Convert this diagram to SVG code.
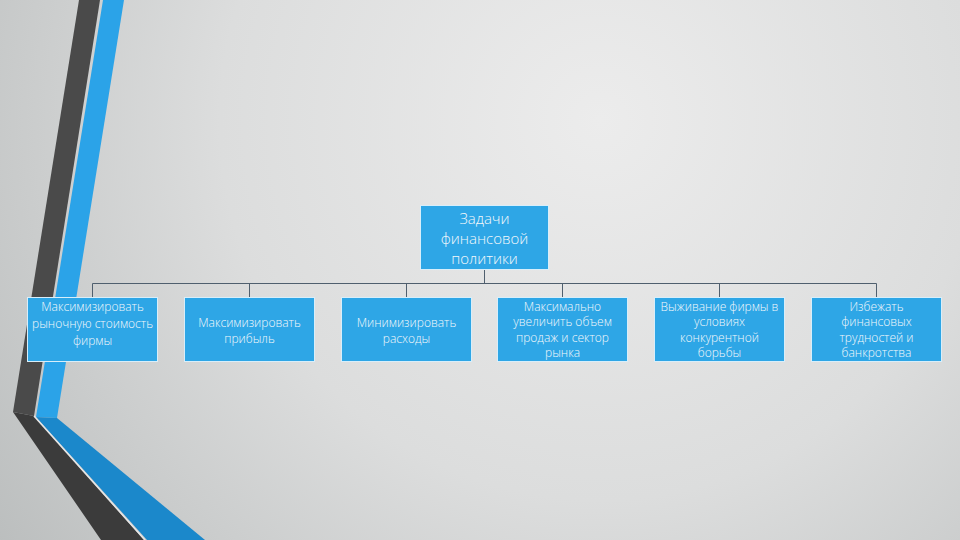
<svg xmlns="http://www.w3.org/2000/svg" width="960" height="540" viewBox="0 0 960 540">
<defs>
<radialGradient id="bg" cx="600" cy="120" r="760" gradientUnits="userSpaceOnUse">
<stop offset="0" stop-color="#ececec"/>
<stop offset="0.5" stop-color="#dcdddd"/>
<stop offset="1" stop-color="#b9bcbc"/>
</radialGradient>
<style>
.box{fill:#2ea6e6;stroke:#d8eefa;stroke-width:1}
.t{font-family:"Open Sans","Liberation Sans",sans-serif;font-weight:300;fill:#f4f8fb;text-anchor:middle;font-size:12px}
.tt{font-size:15px}
.c{stroke:#4f5f6e;stroke-width:1;fill:none}
</style>
</defs>
<rect width="960" height="540" fill="url(#bg)"/>
<g id="decor">
<polygon points="79,0 100,0 34,416 13,412" fill="#4a4a4a"/>
<polygon points="13,412 34,416 144,540 101,540" fill="#3b3b3b"/>
<polygon points="103,0 124,0 57,418 36,417" fill="#2ba3e8"/>
<polygon points="36,417 57,418 205,540 147,540" fill="#1b88cb"/>
<polyline points="34,416 145,540" stroke="#e6e6e6" stroke-width="1.5" fill="none"/>
</g>
<g id="connectors">
<path class="c" d="M484.5 269V283.5M92.5 283.5H876.5M92.5 283.5V297M249.5 283.5V297M406.5 283.5V297M562.5 283.5V297M719.5 283.5V297M876.5 283.5V297"/>
</g>
<g id="root">
<rect class="box" x="420.5" y="205.5" width="128" height="64"/>
<text class="t tt" x="484.5"><tspan x="484.5" y="223.5">Задачи</tspan><tspan x="484.5" y="244">финансовой</tspan><tspan x="484.5" y="264">политики</tspan></text>
</g>
<g id="n1">
<rect class="box" x="27.5" y="297.5" width="130" height="64"/>
<text class="t"><tspan x="92.5" y="311">Максимизировать</tspan><tspan x="92.5" y="327.5">рыночную стоимость</tspan><tspan x="92.5" y="344.5">фирмы</tspan></text>
</g>
<g id="n2">
<rect class="box" x="184.5" y="297.5" width="130" height="64"/>
<text class="t"><tspan x="249.5" y="326.5">Максимизировать</tspan><tspan x="249.5" y="342.5">прибыль</tspan></text>
</g>
<g id="n3">
<rect class="box" x="341.5" y="297.5" width="130" height="64"/>
<text class="t"><tspan x="406.5" y="326.5">Минимизировать</tspan><tspan x="406.5" y="342.5">расходы</tspan></text>
</g>
<g id="n4">
<rect class="box" x="497.5" y="297.5" width="130" height="64"/>
<text class="t"><tspan x="562.5" y="310.5">Максимально</tspan><tspan x="562.5" y="326">увеличить объем</tspan><tspan x="562.5" y="341.5">продаж и сектор</tspan><tspan x="562.5" y="357">рынка</tspan></text>
</g>
<g id="n5">
<rect class="box" x="654.5" y="297.5" width="130" height="64"/>
<text class="t"><tspan x="719.5" y="310.5">Выживание фирмы в</tspan><tspan x="719.5" y="326">условиях</tspan><tspan x="719.5" y="341.5">конкурентной</tspan><tspan x="719.5" y="357">борьбы</tspan></text>
</g>
<g id="n6">
<rect class="box" x="811.5" y="297.5" width="130" height="64"/>
<text class="t"><tspan x="876.5" y="310.5">Избежать</tspan><tspan x="876.5" y="326">финансовых</tspan><tspan x="876.5" y="341.5">трудностей и</tspan><tspan x="876.5" y="357">банкротства</tspan></text>
</g>
</svg>
